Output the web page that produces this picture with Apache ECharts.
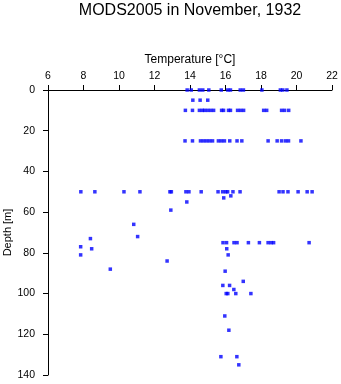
<!DOCTYPE html>
<html>
<head>
<meta charset="utf-8">
<script src="https://cdn.jsdelivr.net/npm/echarts@6/dist/echarts.min.js"></script>
<style>
html,body{margin:0;padding:0;background:#fff;}
#chart{width:341px;height:384px;}
</style>
</head>
<body>
<div id="chart"></div>
<script>
// Observations: temperature [°C] and depth [m]
var temperature = [
  // 0 m
  13.84, 14.07, 14.53, 14.72, 15.06, 15.76, 16.13, 16.28, 16.83, 17.01, 18.05, 19.09, 19.23, 19.46,
  // 5 m
  14.16, 14.57, 15.00,
  // 10 m
  13.74, 14.14, 14.53, 14.70, 14.82, 14.99, 15.16, 15.33, 15.78, 15.89, 16.17, 16.28, 16.68, 16.85, 17.02, 18.15, 18.32, 19.16, 19.33, 19.56,
  // 25 m
  13.72, 14.14, 14.59, 14.76, 14.93, 15.10, 15.27, 15.60, 15.77, 15.94, 16.24, 16.65, 16.92, 18.40, 18.91, 19.16, 19.38, 19.55, 20.25,
  // 50 m
  7.85, 8.64, 10.28, 11.18, 12.87, 12.95, 13.77, 13.94, 14.63, 15.58, 15.84, 16.01, 16.12, 16.42, 16.82, 19.02, 19.24, 19.52, 20.09, 20.60, 20.88,
  // 52-59 m
  16.30, 15.90, 13.82, 12.92,
  // 75 m
  15.86, 16.06, 16.48, 16.65, 17.29, 17.91, 18.40, 18.57, 18.71, 20.71,
  // deeper
  10.83, 11.05, 8.39, 7.84, 8.46, 7.84, 12.71, 9.51, 16.07, 16.15, 15.98, 17.00, 15.85, 16.23, 16.47,
  16.04, 16.13, 16.58, 17.43, 15.96, 16.19, 15.74, 16.64, 16.75
];
var depth = [
  0, 0, 0, 0, 0, 0, 0, 0, 0, 0, 0, 0, 0, 0,
  5, 5, 5,
  10, 10, 10, 10, 10, 10, 10, 10, 10, 10, 10, 10, 10, 10, 10, 10, 10, 10, 10, 10,
  25, 25, 25, 25, 25, 25, 25, 25, 25, 25, 25, 25, 25, 25, 25, 25, 25, 25, 25,
  50, 50, 50, 50, 50, 50, 50, 50, 50, 50, 50, 50, 50, 50, 50, 50, 50, 50, 50, 50, 50,
  52, 53, 55, 59,
  75, 75, 75, 75, 75, 75, 75, 75, 75, 75,
  66, 72, 73, 77, 78, 81, 84, 88, 78, 81, 89, 94, 96, 96, 98,
  100, 100, 100, 100, 111, 118, 131, 131, 135
];
var titleText = 'MODS2005 in November, 1932';
var xName = 'Temperature [°C]';
var yName = 'Depth [m]';

var points = temperature.map(function (t, i) { return [t, depth[i]]; });
var FONT = 'Liberation Sans, Arial, sans-serif';

var chart = echarts.init(document.getElementById('chart'), null, {renderer: 'canvas'});
chart.setOption({
  animation: false,
  backgroundColor: '#ffffff',
  title: {
    text: titleText,
    left: 185,
    top: -2,
    textAlign: 'center',
    textStyle: {fontFamily: FONT, fontSize: 16, fontWeight: 'normal', color: '#000'}
  },
  grid: {left: 48, top: 90, width: 284, height: 285, containLabel: false, outerBoundsMode: 'none'},
  xAxis: {
    type: 'value',
    position: 'top',
    min: 6, max: 22, interval: 2,
    name: xName,
    nameLocation: 'middle',
    nameGap: 24,
    nameMoveOverlap: false,
    nameTextStyle: {fontFamily: FONT, fontSize: 12, color: '#000'},
    axisLine: {show: true, onZero: false, lineStyle: {color: '#000', width: 1}},
    axisTick: {show: true, inside: false, length: 5, lineStyle: {color: '#000'}},
    axisLabel: {fontFamily: FONT, fontSize: 10.5, color: '#000', margin: 8},
    splitLine: {show: false}
  },
  yAxis: {
    type: 'value',
    inverse: true,
    min: 0, max: 140, interval: 20,
    name: yName,
    nameLocation: 'middle',
    nameGap: 35,
    nameMoveOverlap: false,
    nameRotate: 90,
    nameTextStyle: {fontFamily: FONT, fontSize: 11, color: '#000'},
    axisLine: {show: true, onZero: false, lineStyle: {color: '#000', width: 1}},
    axisTick: {show: true, inside: false, length: 5, lineStyle: {color: '#000'}},
    axisLabel: {fontFamily: FONT, fontSize: 10.5, color: '#000', margin: 13},
    splitLine: {show: false}
  },
  series: [{
    type: 'scatter',
    data: points,
    symbol: 'rect',
    symbolSize: [3.5, 3.5],
    itemStyle: {color: '#0000ff'},
    silent: true
  }]
});
</script>
</body>
</html>
